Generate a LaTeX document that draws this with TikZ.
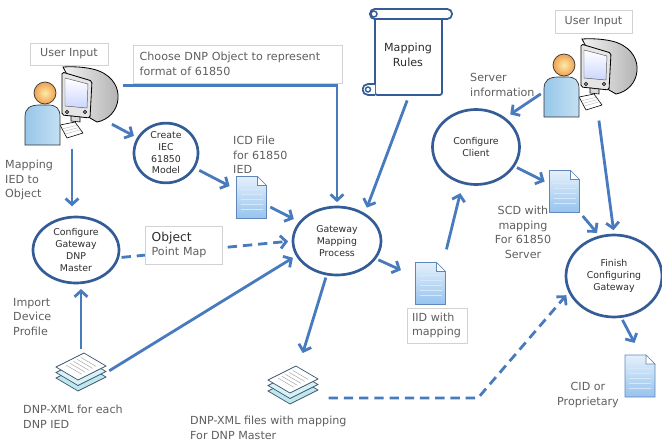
\documentclass[tikz,border=0pt]{standalone}
\usepackage{fontspec}
\setmainfont{DejaVu Sans}
\usetikzlibrary{shapes.geometric,arrows.meta}

\definecolor{arrowblue}{RGB}{72,122,190}
\definecolor{procblue}{RGB}{52,92,150}
\definecolor{labelgray}{RGB}{95,95,95}
\definecolor{textdark}{RGB}{45,45,45}
\definecolor{docblue}{RGB}{150,195,238}
\definecolor{docline}{RGB}{95,135,185}
\definecolor{sheetcyan}{RGB}{190,232,238}
\definecolor{sheetline}{RGB}{60,85,110}
\definecolor{skinorange}{RGB}{240,160,80}
\definecolor{shirtblue}{RGB}{125,185,228}

% icons, drawn around the node centre (units of 0.03cm, y downwards)
\newcommand\drawuser{%
  \shadedraw[left color=gray!10, right color=gray!60, draw=black, line width=0.7pt]
    (-9,-36) .. controls (5,-37) and (20,-35) .. (27,-32) .. controls (42,-26) and (47,-14) .. (46,-4)
    .. controls (45,8) and (36,17) .. (25,19) -- (18,15) -- cycle;
  \filldraw[fill=gray!20, draw=black, line width=0.7pt, rounded corners=1.5pt]
    (-10,-31) -- (20,-22) -- (18,15) -- (-10,12) -- cycle;
  \shadedraw[top color=white, bottom color=cyan!20!blue!20, draw=gray!70!black, line width=0.4pt]
    (-7,-25) -- (16,-19) -- (15,5) -- (-7,3) -- cycle;
  \draw[black, line width=0.5pt] (-5,9) circle (1.6) (13,9) circle (1.6);
  \filldraw[fill=gray!30, draw=black, line width=0.5pt] (-1,13) -- (8,14) -- (8,19) -- (-1,18) -- cycle;
  \filldraw[fill=white, draw=black, line width=0.5pt] (-12,22) -- (3,19) -- (11,30) -- (-5,35) -- cycle;
  \foreach \k in {0.3,0.5,0.7}
    \draw[gray!60, line width=0.3pt] ({-12+7*\k},{22+13*\k}) -- ({3+8*\k},{19+11*\k});
  \shadedraw[left color=shirtblue!80, right color=shirtblue!45, draw=black!80, line width=0.6pt]
    (-47,42) -- (-47,14) .. controls (-47,5) and (-42,2) .. (-32,2) -- (-24,2)
    .. controls (-16,2) and (-12,5) .. (-12,14) -- (-12,42) -- cycle;
  \shadedraw[inner color=skinorange!50!yellow!40, outer color=skinorange, draw=black!80, line width=0.6pt]
    (-27,-10) circle (11);
}
\newcommand\drawdoc{%
  \shadedraw[top color=docblue!25, bottom color=docblue, draw=docline, line width=0.5pt]
    (-15,-21) -- (6,-21) -- (15,-12) -- (15,21) -- (-15,21) -- cycle;
  \filldraw[fill=white, draw=docline, line width=0.5pt] (6,-21) -- (6,-12) -- (15,-12) -- cycle;
  \foreach \ly in {-8,-3,2,7,12}
    \draw[docblue!40, line width=0.6pt] (-11,\ly) -- (11,\ly);
}
\newcommand\drawstack{%
  \foreach \dy/\c in {11/sheetcyan, 5.5/sheetcyan!60}
    \filldraw[fill=\c, draw=sheetline, line width=0.6pt] (-25,-5+\dy) -- (3,-19+\dy) -- (25,-6+\dy) -- (-3,8+\dy) -- cycle;
  \filldraw[fill=white, draw=sheetline, line width=0.6pt] (-25,-5) -- (3,-19) -- (25,-6) -- (-3,8) -- cycle;
  \foreach \s in {0.25,0.38,0.51,0.64,0.77}
    \draw[gray!70, line width=0.4pt] ({-21.7+28*\s},{-3-15*\s}) -- ({-6.3+28*\s},{6-15*\s});
}
\newcommand\drawscroll{%
  \filldraw[fill=white, draw=procblue, line width=1.5pt, rounded corners=2pt]
    (-33,-36) -- (-33,42) -- (34,42) -- (34,-36);
  \filldraw[fill=white, draw=procblue, line width=1.5pt, rounded corners=4pt] (-38,-44) rectangle (44,-34);
  \draw[procblue, line width=1.2pt] (-34,-39) circle (3);
  \filldraw[fill=white, draw=procblue, line width=1.5pt] (-33,31) -- (-40,31)
    arc[start angle=270, end angle=90, radius=5.5] -- (-33,42);
  \draw[procblue, line width=1.2pt] (-40,36.5) circle (2.5);
}

\begin{document}
\begin{tikzpicture}[x=0.03cm, y=-0.03cm,
  proc/.style={ellipse, draw=procblue, line width=2.3pt, fill=white, align=center,
    text=textdark, inner sep=0pt, font=\fontsize{8}{10}\selectfont},
  note/.style={text=labelgray, align=left, inner sep=0pt, font=\fontsize{9.5}{12.5}\selectfont},
  tag/.style={draw=gray!35, line width=0.6pt, fill=white, text=labelgray,
    font=\fontsize{9.5}{12.5}\selectfont},
  flow/.style={arrowblue, line width=2.4pt, -{Straight Barb[length=5pt,width=11pt]},
    shorten >=3pt, shorten <=2pt},
  dashflow/.style={flow, dash pattern=on 8pt off 5pt},
  usericon/.style={minimum width=2.88cm, minimum height=2.58cm, inner sep=0pt,
    path picture={\begin{scope}[shift={(path picture bounding box.center)}, xscale=#1]\drawuser\end{scope}}},
  doc/.style={minimum width=0.99cm, minimum height=1.35cm, inner sep=0pt,
    path picture={\begin{scope}[shift={(path picture bounding box.center)}]\drawdoc\end{scope}}},
  stack/.style={minimum width=1.56cm, minimum height=1.23cm, inner sep=0pt,
    path picture={\begin{scope}[shift={(path picture bounding box.center)}]\drawstack\end{scope}}},
  scroll/.style={minimum width=2.76cm, minimum height=2.7cm, inner sep=0pt,
    path picture={\begin{scope}[shift={(path picture bounding box.center)}]\drawscroll\end{scope}}}]

  \useasboundingbox (0,0) rectangle (662,443);

  \node[tag, minimum width=2.34cm, minimum height=0.66cm] (uinL) at (69,54) {User Input};
  \node[tag, minimum width=2.31cm, minimum height=0.69cm] (uinR) at (593.5,21.5) {User Input};
  \node[tag, text width=5.87cm, inner xsep=0.2cm, minimum height=1.14cm, align=left] (choose) at (237.5,64)
    {Choose DNP Object to represent\\format of 61850};

  \node[usericon=1] (user1) at (72,103) {};
  \node[usericon=-1] (user2) at (591,75) {};
  \node[scroll] (rules) at (408,53) {};
  \node[text=textdark, align=center, font=\fontsize{9.5}{12.5}\selectfont] (rulestext) at (408,55) {Mapping\\Rules};

  \node[proc, minimum width=1.92cm, minimum height=1.68cm] (create) at (166,153) {Create\\IEC\\61850\\Model};
  \node[proc, minimum width=2.64cm, minimum height=2.04cm] (gateway) at (337,241) {Gateway\\Mapping\\Process};
  \node[proc, minimum width=2.61cm, minimum height=2.25cm] (client) at (476,147) {Configure\\Client};
  \node[proc, minimum width=2.88cm, minimum height=2.46cm] (finish) at (614,276) {Finish\\Configuring\\Gateway};
  \node[proc, minimum width=2.58cm, minimum height=1.98cm] (dnpm) at (76,250) {Configure\\Gateway\\DNP\\Master};

  \node[doc] (icd) at (251.5,197.5) {};
  \node[doc] (scd) at (564.5,191.5) {};
  \node[doc] (iid) at (430.5,283.5) {};
  \node[doc] (cid) at (640,376) {};
  \node[stack] (dnpin) at (81,372) {};
  \node[stack] (dnpout) at (293,385) {};

  \node[note, anchor=north west] (mapnote) at (5,160) {Mapping\\IED to\\Object};
  \node[note, anchor=north west] (importnote) at (13,298) {Import\\Device\\Profile};
  \node[note, anchor=north west] (dnpinnote) at (23,405) {DNP-XML for each\\DNP IED};
  \node[note, anchor=north west] (icdnote) at (233,136) {ICD File\\for 61850\\IED};
  \node[note, anchor=north west] (servernote) at (470,73) {Server\\information};
  \node[note, anchor=north, align=center] (scdnote) at (523,206) {SCD with\\mapping\\For 61850\\Server};
  \node[note, anchor=north, align=center] (cidnote) at (588,382) {CID or\\Proprietary};
  \node[note, anchor=north west] (dnpoutnote) at (190,416) {DNP-XML files with mapping\\For DNP Master};
  \node[tag, text width=1.5cm, inner xsep=0.15cm, minimum height=1.05cm, align=left] (iidtag) at (437,325.5)
    {IID with\\mapping};

  % flows
  \draw[flow] (user1.20) -| (gateway);
  \draw[flow, shorten <=-8pt] (user1) -- (create);
  \draw[flow, shorten >=8pt] (user1.south) -- (user1.south |- dnpm.north);
  \draw[flow, shorten >=5pt, shorten <=4pt] (create) -- (icd);
  \draw[flow, shorten >=5pt] (icd) -- (gateway);
  \draw[flow, shorten >=5pt] (rules.south) -- (gateway.45);
  \draw[dashflow] (dnpm.-10) -- (gateway.west);
  \node[tag, text width=1.91cm, inner xsep=0.2cm, minimum height=1.14cm, align=left] (pointmap) at (183.5,245)
    {{\color{textdark}\fontsize{10.5}{12.5}\selectfont Object}\\Point Map};
  \draw[flow] (dnpin.east) -- (gateway.200);
  \draw[flow, shorten >=4pt] (dnpin.north) -- (dnpin.north |- dnpm.south);
  \draw[flow, shorten >=10pt] (gateway) -- (dnpout);
  \draw[flow, shorten >=12pt] (gateway) -- (iid);
  \draw[flow, shorten >=8pt, shorten <=10pt] (iid.60) -- (client.250);
  \draw[flow, shorten >=5pt] (user2.200) -- (client.45);
  \draw[flow] (client) -- (scd);
  \draw[flow] (scd.south east) -- (finish.110);
  \draw[flow] (user2.-80) -- (finish.north);
  \coordinate (bend) at (478,398);
  \draw[dashflow, shorten <=8pt] (dnpout.east |- bend) -- (bend) -- (finish.200);
  \draw[flow, shorten >=10pt] (finish.-80) -- (cid.north);
\end{tikzpicture}
\end{document}
